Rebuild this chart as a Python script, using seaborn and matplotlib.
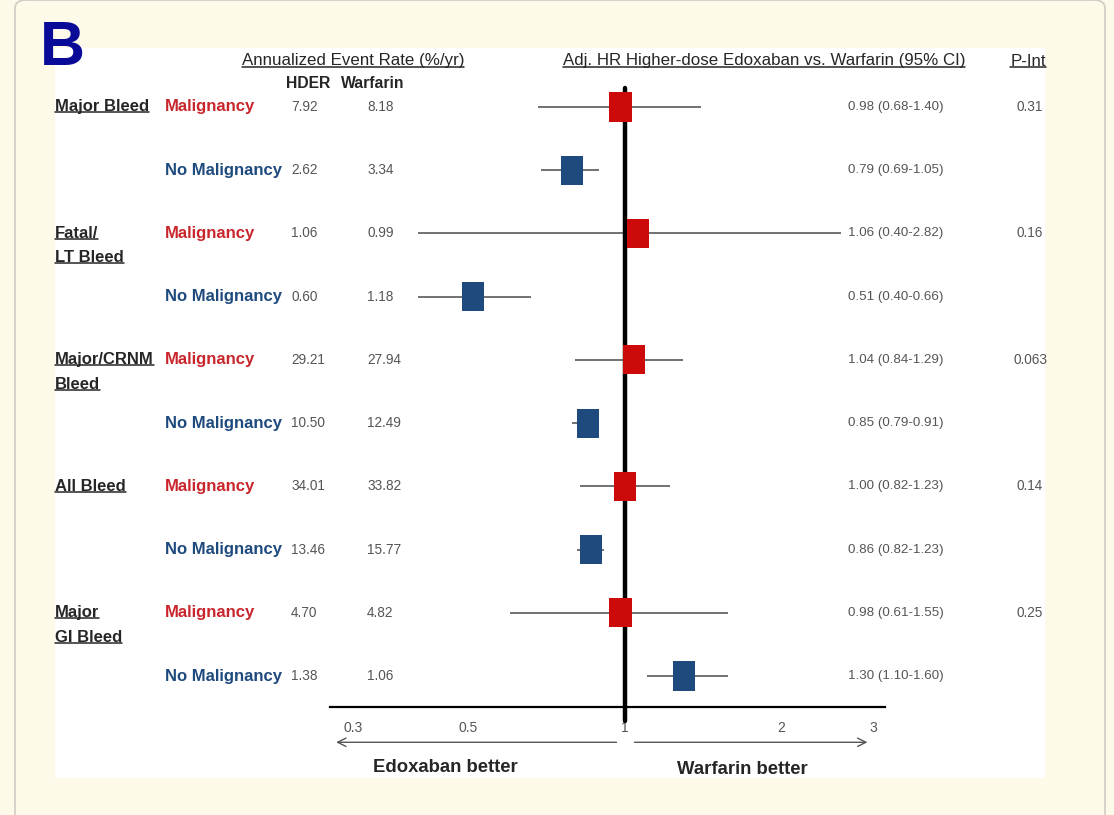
import seaborn as sns
import matplotlib.pyplot as plt
import matplotlib.transforms as mtransforms
from matplotlib.lines import Line2D
from matplotlib.patches import Rectangle, FancyBboxPatch
import pandas as pd

# data
categories = ["Major Bleed", "Fatal/\nLT Bleed", "Major/CRNM\nBleed", "All Bleed", "Major\nGI Bleed"]
subgroups = ["Malignancy", "No Malignancy"] * 5
hder = ["7.92", "2.62", "1.06", "0.60", "29.21", "10.50", "34.01", "13.46", "4.70", "1.38"]
warfarin = ["8.18", "3.34", "0.99", "1.18", "27.94", "12.49", "33.82", "15.77", "4.82", "1.06"]
hr = [0.98, 0.79, 1.06, 0.51, 1.04, 0.85, 1.00, 0.86, 0.98, 1.30]
ci_low = [0.68, 0.69, 0.40, 0.40, 0.80, 0.79, 0.82, 0.81, 0.60, 1.10]
ci_high = [1.40, 0.89, 2.60, 0.66, 1.29, 0.89, 1.22, 0.91, 1.58, 1.58]
hr_text = ["0.98 (0.68-1.40)", "0.79 (0.69-1.05)", "1.06 (0.40-2.82)", "0.51 (0.40-0.66)",
           "1.04 (0.84-1.29)", "0.85 (0.79-0.91)", "1.00 (0.82-1.23)", "0.86 (0.82-1.23)",
           "0.98 (0.61-1.55)", "1.30 (1.10-1.60)"]
p_int = ["0.31", "0.16", "0.063", "0.14", "0.25"]
xticks = [0.3, 0.5, 1, 2, 3]
xtick_labels = ["0.3", "0.5", "1", "2", "3"]

RED = "#cc0a0a"
BLUE = "#1f4a7e"
TXT_RED = "#c8262c"
TXT_BLUE = "#1f4a7e"
DARK = "#262626"
GRAY = "#555555"

df = pd.DataFrame({
    "row": range(len(hr)),
    "hr": hr,
    "lo": ci_low,
    "hi": ci_high,
    "group": subgroups,
})

sns.set_style("white")
plt.rcParams["font.family"] = ["Liberation Sans", "DejaVu Sans"]

W, H = 1114, 815
fig = plt.figure(figsize=(W / 100, H / 100), dpi=100)
fig.patch.set_facecolor("#fdfaea")


def fx(px):
    return px / W


def fy(py):
    return 1 - py / H


# frame and white panel (behind the axes)
fig.add_artist(FancyBboxPatch((fx(15), fy(830)), fx(1090), 830 / H, boxstyle="round,pad=0,rounding_size=0.01",
                              transform=fig.transFigure, facecolor="#fdfaea", edgecolor="#cfcdc4", lw=1.2,
                              zorder=-3))
fig.add_artist(Rectangle((fx(55), fy(778)), fx(990), (778 - 48) / H, transform=fig.transFigure,
                         facecolor="white", edgecolor="none", zorder=-2))

ax = fig.add_axes([fx(330), fy(707), fx(885 - 330), (707 - 88) / H])
ax.patch.set_alpha(0)

# CI lines
ax.hlines(df["row"], df["lo"], df["hi"], color="#4a4a4a", lw=1.1, zorder=2)
ax.axvline(1, ymin=-0.022, ymax=1, color="black", lw=3.2, zorder=3, clip_on=False)

box = [(-0.76, -1), (0.76, -1), (0.76, 1), (-0.76, 1)]
sns.scatterplot(data=df, x="hr", y="row", hue="group", palette={"Malignancy": RED, "No Malignancy": BLUE},
                marker=box, s=440, linewidth=0, legend=False, ax=ax, zorder=4)

ax.set_xscale("log")
ax.set_xlim(0.271, 3.16)
ax.set_ylim(9.49, -0.30)
ax.set_xticks(xticks)
ax.set_xticklabels(xtick_labels)
ax.minorticks_off()
ax.set_yticks([])
ax.set_xlabel("")
ax.set_ylabel("")
for s in ["top", "right", "left"]:
    ax.spines[s].set_visible(False)
ax.spines["bottom"].set_color("black")
ax.spines["bottom"].set_linewidth(1.6)
ax.tick_params(axis="x", direction="inout", length=6, width=0.8, color="#b0b0b0",
               labelsize=10, labelcolor=GRAY, pad=7)

# arrows under the axis
xt = ax.get_xaxis_transform()
ax.annotate("", xy=(0.275, -0.057), xytext=(0.975, -0.057), xycoords=xt, textcoords=xt,
            arrowprops=dict(arrowstyle="->,head_length=0.6,head_width=0.3", color="#555555", lw=1),
            annotation_clip=False)
ax.annotate("", xy=(2.96, -0.057), xytext=(1.03, -0.057), xycoords=xt, textcoords=xt,
            arrowprops=dict(arrowstyle="->,head_length=0.6,head_width=0.3", color="#555555", lw=1),
            annotation_clip=False)

fig.text(fx(445), fy(768), "Edoxaban better", ha="center", va="center", fontsize=13.3,
         fontweight="bold", color=DARK)
fig.text(fx(742), fy(770), "Warfarin better", ha="center", va="center", fontsize=13.3,
         fontweight="bold", color=DARK)

# panel letter
fig.text(fx(40), fy(65), "B", ha="left", va="baseline", fontsize=45, fontweight="bold", color="#0a0a98")

underlined = []

# headers
underlined.append(fig.text(fx(353), fy(61), "Annualized Event Rate (%/yr)", ha="center", va="center",
                           fontsize=12.2, color=DARK))
underlined.append(fig.text(fx(764), fy(61), "Adj. HR Higher-dose Edoxaban vs. Warfarin (95% CI)",
                           ha="center", va="center", fontsize=12.2, color=DARK))
underlined.append(fig.text(fx(1028), fy(61), "P-Int", ha="center", va="center", fontsize=12.2, color=DARK))
fig.text(fx(308), fy(84), "HDER", ha="center", va="center", fontsize=11.3, fontweight="bold", color=DARK)
fig.text(fx(373), fy(84), "Warfarin", ha="center", va="center", fontsize=11.3, fontweight="bold", color=DARK)

tr = mtransforms.blended_transform_factory(fig.transFigure, ax.transData)

for i, cat in enumerate(categories):
    row = 2 * i
    for k, line in enumerate(cat.split("\n")):
        t = fig.text(fx(55), row, line, transform=tr + mtransforms.ScaledTranslation(0, -k * 0.245,
                                                                                     fig.dpi_scale_trans),
                     ha="left", va="center", fontsize=12, fontweight="bold", color=DARK)
        underlined.append(t)
    fig.text(fx(1030), row, p_int[i], transform=tr, ha="center", va="center", fontsize=9.8, color=GRAY)

for i in range(len(hr)):
    c = TXT_RED if subgroups[i] == "Malignancy" else TXT_BLUE
    fig.text(fx(165), i, subgroups[i], transform=tr, ha="left", va="center", fontsize=12,
             fontweight="bold", color=c)
    fig.text(fx(291), i, hder[i], transform=tr, ha="left", va="center", fontsize=9.8, color=GRAY)
    fig.text(fx(367), i, warfarin[i], transform=tr, ha="left", va="center", fontsize=9.8, color=GRAY)
    fig.text(fx(848), i, hr_text[i], transform=tr, ha="left", va="center", fontsize=9.6, color=GRAY)

# underline the header and category texts
fig.canvas.draw()
r = fig.canvas.get_renderer()
inv = fig.transFigure.inverted()
for t in underlined:
    bb = t.get_window_extent(r)
    (x0, y0), (x1, _) = inv.transform([(bb.x0, bb.y0 + 2), (bb.x1, bb.y0 + 2)])
    fig.add_artist(Line2D([x0, x1], [y0, y0], transform=fig.transFigure, color=DARK, lw=1.1))

fig.savefig("out.png", dpi=100, facecolor=fig.get_facecolor())
